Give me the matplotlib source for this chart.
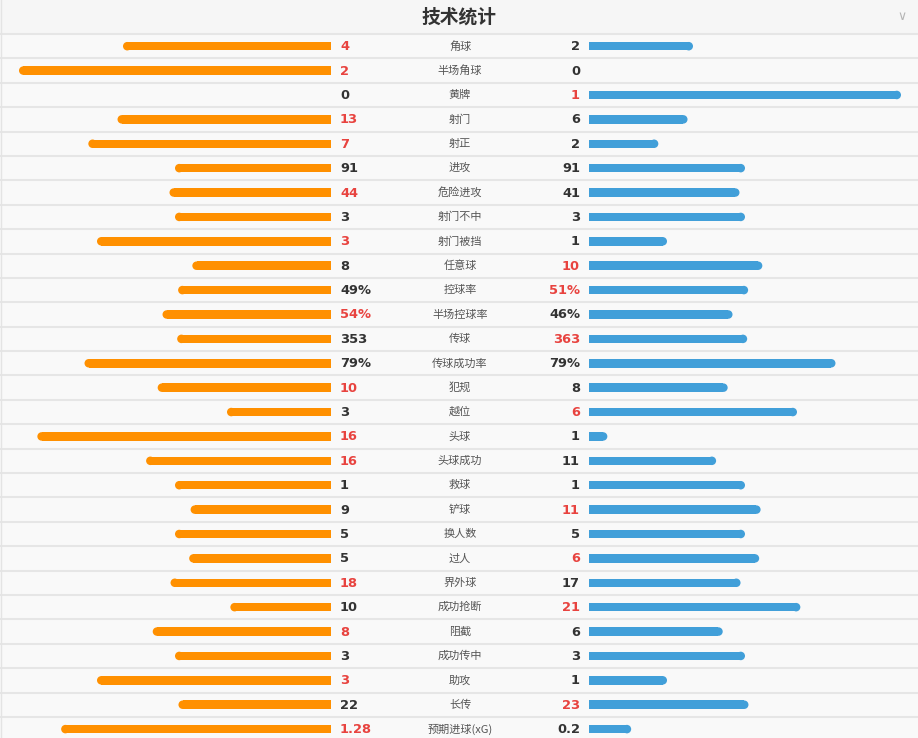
import matplotlib.pyplot as plt

plt.rcParams['font.family'] = ['Noto Sans CJK SC', 'DejaVu Sans']

# stat rows, top to bottom
labels = ['角球', '半场角球', '黄牌', '射门', '射正', '进攻', '危险进攻', '射门不中',
          '射门被挡', '任意球', '控球率', '半场控球率', '传球', '传球成功率', '犯规',
          '越位', '头球', '头球成功', '救球', '铲球', '换人数', '过人', '界外球',
          '成功抢断', '阻截', '成功传中', '助攻', '长传', '预期进球(xG)']
home = [4, 2, 0, 13, 7, 91, 44, 3, 3, 8, 49, 54, 353, 79, 10,
        3, 16, 16, 1, 9, 5, 5, 18, 10, 8, 3, 3, 22, 1.28]
away = [2, 0, 1, 6, 2, 91, 41, 3, 1, 10, 51, 46, 363, 79, 8,
        6, 1, 11, 1, 11, 5, 6, 17, 21, 6, 3, 1, 23, 0.2]
is_pct = ['控球率', '半场控球率', '传球成功率']

ORANGE = '#ff9000'
BLUE = '#419fd9'
RED = '#e8433f'
DARK = '#333333'

W, H = 918, 738
fig = plt.figure(figsize=(W / 100, H / 100), dpi=100)
fig.patch.set_facecolor('#f9f9f9')
ax = fig.add_axes([0, 0, 1, 1])
ax.set_xlim(0, W)
ax.set_ylim(H, 0)
ax.axis('off')

# header
header_h = 34
row_h = 24.39
ax.axhspan(0, header_h, color='#f6f6f6', lw=0, zorder=0)
ax.text(459, 17, '技术统计', ha='center', va='center', fontsize=13.5,
        fontweight='bold', color=DARK)
ax.text(902, 17, '\u2228', ha='center', va='center', fontsize=9,
        color='#b5b5b5', family='DejaVu Sans')
ax.axvline(0.5, color='#e4e4e4', lw=1)

left_end = 331
right_start = 589
max_len = 312
bar_h = 8.5

for i, (lab, a, b) in enumerate(zip(labels, home, away)):
    top = header_h + i * row_h
    y = top + row_h / 2
    ax.axhline(top, color='#e6e6e6', lw=1.5, zorder=1)

    if lab in is_pct:
        la, lb = a / 100, b / 100
        ta, tb = f'{a}%', f'{b}%'
    else:
        tot = a + b
        la, lb = a / tot, b / tot
        ta, tb = f'{a:g}', f'{b:g}'

    # bars: flat inner end, rounded outer end
    len_a = la * max_len
    if len_a > 0:
        ax.barh(y, len_a - bar_h / 2, left=left_end - len_a + bar_h / 2,
                height=bar_h, color=ORANGE, lw=0, zorder=2)
        ax.add_patch(plt.Circle((left_end - len_a + bar_h / 2, y), bar_h / 2,
                                facecolor=ORANGE, lw=0, zorder=2))
    len_b = lb * max_len
    if len_b > 0:
        ax.barh(y, len_b - bar_h / 2, left=right_start,
                height=bar_h, color=BLUE, lw=0, zorder=2)
        ax.add_patch(plt.Circle((right_start + len_b - bar_h / 2, y), bar_h / 2,
                                facecolor=BLUE, lw=0, zorder=2))

    ca = RED if a > b else DARK
    cb = RED if b > a else DARK
    ax.text(340, y + 0.5, ta, ha='left', va='center', fontsize=9.4,
            fontweight='bold', color=ca, family='DejaVu Sans')
    ax.text(580, y + 0.5, tb, ha='right', va='center', fontsize=9.4,
            fontweight='bold', color=cb, family='DejaVu Sans')
    ax.text(460, y, lab, ha='center', va='center', fontsize=8,
            color='#555555')

fig.savefig('out.png', dpi=100, facecolor=fig.get_facecolor())
